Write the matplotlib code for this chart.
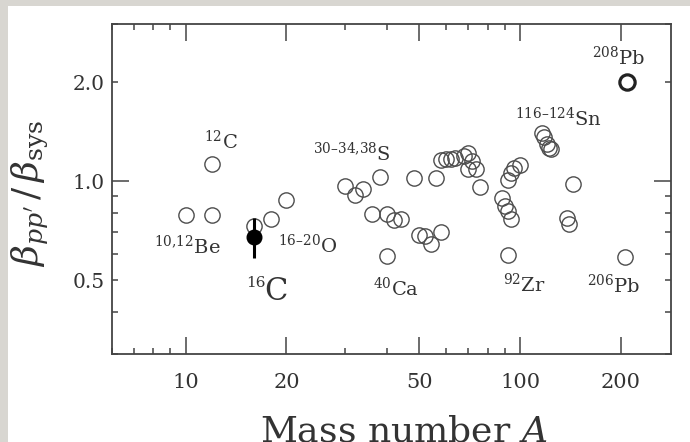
import numpy as np
import matplotlib
matplotlib.use('Agg')
import matplotlib.pyplot as plt
from matplotlib.ticker import FixedLocator, FuncFormatter, NullFormatter
from matplotlib.patches import Rectangle

plt.rcParams['font.family'] = 'DejaVu Serif'
plt.rcParams['mathtext.fontset'] = 'dejavuserif'

# systematic ratios beta_pp' / beta_sys for stable and neutron-rich nuclei
mass_open = [10, 12, 12,
             16, 18, 20,
             30, 32, 34, 38,
             36, 40, 42, 44, 40,
             48, 56,
             50, 52, 54, 58,
             58, 60, 62, 64, 68, 70, 72, 70, 74, 76,
             88, 90, 92, 94, 92, 94, 96, 100, 92,
             116, 118, 120, 122, 124,
             138, 140, 144,
             206]
ratio_open = [0.79, 0.79, 1.13,
              0.73, 0.77, 0.875,
              0.97, 0.91, 0.945, 1.03,
              0.795, 0.795, 0.76, 0.77, 0.592,
              1.02, 1.02,
              0.685, 0.68, 0.647, 0.70,
              1.16, 1.17, 1.17, 1.18, 1.19, 1.22, 1.15, 1.09, 1.09, 0.96,
              0.89, 0.84, 0.81, 0.77, 1.01, 1.06, 1.10, 1.12, 0.598,
              1.40, 1.36, 1.30, 1.26, 1.25,
              0.775, 0.74, 0.98,
              0.59]

# 208Pb reference point (drawn bold)
mass_pb208 = [208]
ratio_pb208 = [2.0]

# 16C measurement with error
mass_c16 = [16]
ratio_c16 = [0.678]
err_c16 = [0.095]

# nucleus labels: (superscript, element, A at left edge, ratio at baseline)
labels = [
    ('12', 'C', 11.35, 1.254),
    ('10{,}12', 'Be', 8.04, 0.602),
    ('16\u201320', 'O', 18.84, 0.606),
    ('30\u201334{,}38', 'S', 23.97, 1.15),
    ('40', 'Ca', 36.26, 0.449),
    ('92', 'Zr', 88.9, 0.463),
    ('206', 'Pb', 158.3, 0.46),
    ('116\u2013124', 'Sn', 96.4, 1.47),
    ('208', 'Pb', 163.6, 2.26),
]

x_major = [10, 20, 50, 100, 200]
x_minor = [6, 7, 8, 9, 30, 40, 60, 70, 80, 90]
y_major = [1.0]
y_minor = [0.3, 0.4, 0.5, 0.6, 0.7, 0.8, 0.9, 2.0, 3.0]
y_labelled = {0.5: '0.5', 1.0: '1.0', 2.0: '2.0'}

fig = plt.figure(figsize=(6.9, 4.42), dpi=100, facecolor='#d8d6d1')
fig.patches.append(Rectangle((8 / 690, 0), 1, 1 - 6 / 442, transform=fig.transFigure,
                             facecolor='white', edgecolor='none', zorder=-10))

ax = fig.add_axes([0.1616, 0.2002, 0.8113, 0.7455])
ax.set_facecolor('white')
ax.set_xscale('log')
ax.set_yscale('log')
ax.set_xlim(6, 283)
ax.set_ylim(0.3, 3.0)

ax.plot(mass_open, ratio_open, 'o', ms=11, mfc='none', mec='#4d4d4d', mew=1.0, zorder=3)
ax.plot(mass_pb208, ratio_pb208, 'o', ms=11, mfc='none', mec='#222222', mew=2.3, zorder=3)
ax.errorbar(mass_c16, ratio_c16, yerr=err_c16, fmt='o', color='black', ms=10.5,
            elinewidth=2.2, capsize=0, zorder=4)

for sup, elem, xa, ya in labels:
    ax.text(xa, ya, r'$^{\mathrm{%s}}\mathrm{%s}$' % (sup, elem), fontsize=14,
            color='#333333', ha='left', va='baseline')

# 16C label is set larger
ax.text(15.13, 0.476, '16', fontsize=11, color='#333333', ha='left', va='baseline')
ax.text(17.2, 0.437, 'C', fontsize=22, color='#333333', ha='left', va='baseline')

ax.xaxis.set_major_locator(FixedLocator(x_major))
ax.xaxis.set_minor_locator(FixedLocator(x_minor))
ax.xaxis.set_major_formatter(FuncFormatter(lambda v, p: '%d' % v))
ax.xaxis.set_minor_formatter(NullFormatter())

ax.yaxis.set_major_locator(FixedLocator(y_major))
ax.yaxis.set_minor_locator(FixedLocator(y_minor))
ax.yaxis.set_major_formatter(FuncFormatter(lambda v, p: y_labelled.get(round(v, 2), '')))
ax.yaxis.set_minor_formatter(FuncFormatter(lambda v, p: y_labelled.get(round(v, 2), '')))

ax.tick_params(which='both', direction='in', top=True, right=True, colors='#444444',
               labelcolor='#333333', width=1.1)
ax.tick_params(which='major', length=12)
ax.tick_params(which='minor', length=4.5)
ax.tick_params(axis='x', which='both', labelsize=15, pad=14)
ax.tick_params(axis='y', which='both', labelsize=14.5, pad=5)

for sp in ax.spines.values():
    sp.set_linewidth(1.3)
    sp.set_color('#444444')

fig.text(30 / 690, 1 - 193 / 442, r"$\beta_{pp'}\,/\,\beta_{\rm sys}$", rotation=90,
         fontsize=26, color='#333333', ha='center', va='center')
fig.text(404 / 690, 1 / 442, r'Mass number $A$', fontsize=26, color='#333333',
         ha='center', va='baseline')

fig.savefig('out.png', dpi=100, facecolor=fig.get_facecolor())
